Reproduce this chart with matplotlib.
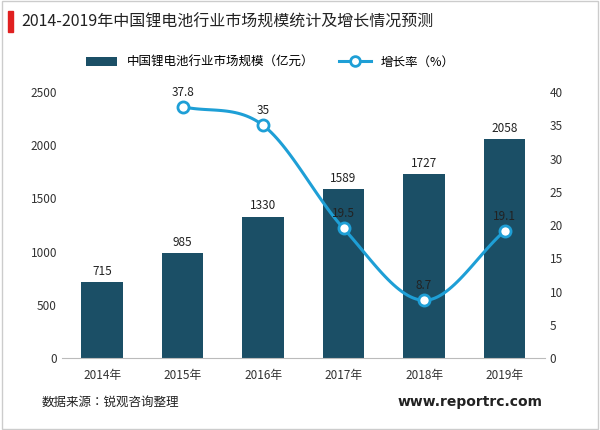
import numpy as np
import matplotlib
matplotlib.use("Agg")
import matplotlib.pyplot as plt
from matplotlib.patches import Rectangle
from matplotlib.lines import Line2D

plt.rcParams["font.family"] = "sans-serif"
plt.rcParams["font.sans-serif"] = ["Noto Sans CJK SC", "Noto Sans CJK JP",
                                   "Noto Sans CJK TC", "DejaVu Sans"]

years = ["2014年", "2015年", "2016年", "2017年", "2018年", "2019年"]
market = [715, 985, 1330, 1589, 1727, 2058]
growth_years = [1, 2, 3, 4, 5]
growth = [37.8, 35, 19.5, 8.7, 19.1]

BAR = "#1b4f66"
LINE = "#1e9fd6"


def catmull_rom(xs, ys, n=30):
    xs = np.asarray(xs, float)
    ys = np.asarray(ys, float)
    px = np.concatenate([[2 * xs[0] - xs[1]], xs, [2 * xs[-1] - xs[-2]]])
    py = np.concatenate([[2 * ys[0] - ys[1]], ys, [2 * ys[-1] - ys[-2]]])
    ox, oy = [], []
    t = np.linspace(0, 1, n)
    for i in range(1, len(px) - 2):
        for p, o in ((px, ox), (py, oy)):
            p0, p1, p2, p3 = p[i - 1], p[i], p[i + 1], p[i + 2]
            o.extend(0.5 * (2 * p1 + (-p0 + p2) * t
                            + (2 * p0 - 5 * p1 + 4 * p2 - p3) * t ** 2
                            + (-p0 + 3 * p1 - 3 * p2 + p3) * t ** 3))
    return ox, oy


fig = plt.figure(figsize=(6, 4.3), dpi=100)
fig.patches.append(Rectangle((0.003, 0.003), 0.994, 0.994, transform=fig.transFigure,
                             fill=False, edgecolor="#cccccc", lw=1))
fig.patches.append(Rectangle((0.013, 0.925), 0.008, 0.05, transform=fig.transFigure,
                             color="#e02020"))
fig.text(0.035, 0.948, "2014-2019年中国锂电池行业市场规模统计及增长情况预测",
         fontsize=11.5, va="center", color="#222222")

ax = fig.add_axes([0.103, 0.167, 0.805, 0.619])
x = np.arange(len(years))
bars = ax.bar(x, market, width=0.52, color=BAR)
for xi, v in zip(x, market):
    ax.text(xi, v + 40, str(v), ha="center", va="bottom", fontsize=8.5, color="#222222")
ax.set_ylim(0, 2500)
ax.set_yticks(range(0, 2501, 500))
ax.set_xlim(-0.5, 5.5)
ax.set_xticks(x)
ax.set_xticklabels(years)
for s in ("top", "right", "left"):
    ax.spines[s].set_visible(False)
ax.spines["bottom"].set_color("#bbbbbb")
ax.tick_params(axis="both", labelsize=8.5, colors="#333333", length=0)
ax.tick_params(axis="x", pad=8)

ax2 = ax.twinx()
sx, sy = catmull_rom(growth_years, growth)
ax2.plot(sx, sy, color=LINE, lw=2.2)
ax2.plot(growth_years, growth, "o", color=LINE, mfc="white", mew=2, ms=8)
for xi, v in zip(growth_years, growth):
    ax2.text(xi, v + 1.2, f"{v:g}", ha="center", va="bottom", fontsize=8.5, color="#222222")
ax2.set_ylim(0, 40)
ax2.set_yticks(range(0, 41, 5))
for s in ("top", "right", "left", "bottom"):
    ax2.spines[s].set_visible(False)
ax2.tick_params(axis="y", labelsize=8.5, colors="#333333", length=0)

h_line = Line2D([], [], color=LINE, lw=2.2, marker="o", mfc="white", mew=2, ms=7)
fig.legend([bars, h_line], ["中国锂电池行业市场规模（亿元）", "增长率（%）"],
           loc="center", bbox_to_anchor=(0.45, 0.855), ncol=2, frameon=False,
           fontsize=9, handlelength=2.5, columnspacing=2)

fig.text(0.07, 0.065, "数据来源：锐观咨询整理", fontsize=9, color="#222222", va="center")
fig.text(0.905, 0.065, "www.reportrc.com", fontsize=10, fontweight="bold",
         color="#222222", ha="right", va="center", family="DejaVu Sans")

fig.savefig("out.png", dpi=100)
